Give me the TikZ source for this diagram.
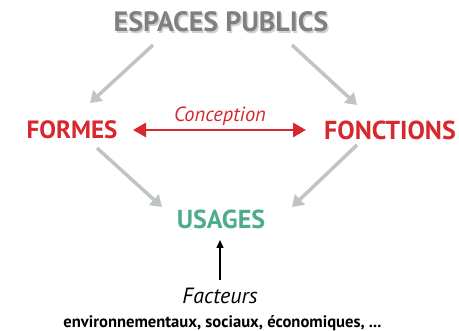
\documentclass[tikz,border=0pt]{standalone}
\usepackage{fontspec}
\setmainfont{PT Sans}
\usepackage{tikz}
\usetikzlibrary{arrows.meta}
\definecolor{rouge}{RGB}{214,40,46}
\definecolor{vert}{RGB}{76,172,140}
\definecolor{grisfl}{RGB}{192,196,196}
\definecolor{gristxt}{RGB}{128,128,128}

\begin{document}
\begin{tikzpicture}[x=1pt,y=1pt,
    titre/.style={inner sep=0pt,font=\bfseries\fontsize{26}{26}\selectfont},
    grisarr/.style={grisfl,line width=3.5pt,-{Triangle[length=11pt,width=14pt]}},
    rougearr/.style={rouge,line width=2.8pt,{Triangle[length=13pt,width=14pt]}-{Triangle[length=13pt,width=14pt]}},
    noirarr/.style={black,line width=1.4pt,-{Triangle[length=8pt,width=7pt]}}]
  \useasboundingbox (0,0) rectangle (459,331);
    %Titres
    \node[titre,text=black!18,font=\bfseries\fontsize{28}{28}\selectfont] at (222.5,307.5) {ESPACES PUBLICS};
    \node[titre,text=gristxt,font=\bfseries\fontsize{28}{28}\selectfont] (espaces) at (221,309) {ESPACES PUBLICS};
    \node[titre,text=rouge,font=\bfseries\fontsize{25}{25}\selectfont] (formes) at (72,201) {FORMES};
    \node[titre,text=rouge] (fonctions) at (390,201) {FONCTIONS};
    \node[titre,text=vert] (usages) at (221,112) {USAGES};
    \node[inner sep=0pt,text=rouge,font=\itshape\fontsize{20.5}{20.5}\selectfont] (conception) at (220,215) {Conception};
    \node[inner sep=0pt,font=\itshape\fontsize{22}{22}\selectfont] (facteurs) at (220,35) {Facteurs};
    \node[inner sep=0pt,font=\bfseries\fontsize{16.6}{16.6}\selectfont] (env) at (222.5,8) {environnementaux, sociaux, économiques, ...};

    %Fleches
    \draw[grisarr] ([shift={(-68,-23)}]espaces.center) -- ([shift={(18,27)}]formes.center);
    \draw[grisarr] ([shift={(71,-23)}]espaces.center) -- ([shift={(-33,25)}]fonctions.center);
    \draw[grisarr] ([shift={(25,-18)}]formes.center) -- ([shift={(-59,12)}]usages.center);
    \draw[grisarr] ([shift={(-33,-15)}]fonctions.center) -- ([shift={(71,12)}]usages.center);
     \draw[rougearr] ([xshift=61]formes.center) -- ([xshift=-84]fonctions.center);
     \draw[noirarr] ([yshift=16]facteurs.center) -- ([shift={(-1,-21)}]usages.center);
\end{tikzpicture}
\end{document}
